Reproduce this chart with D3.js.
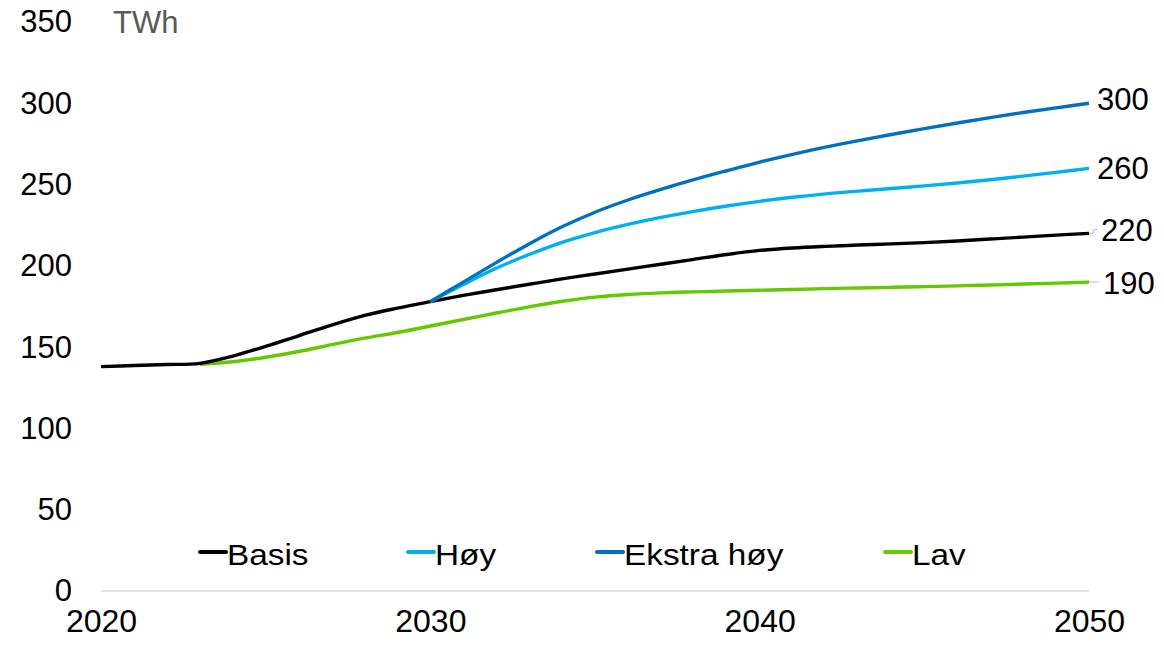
<!DOCTYPE html>
<html>
<head>
<meta charset="utf-8">
<script src="https://cdn.jsdelivr.net/npm/d3@7"></script>
<style>
  html, body { margin: 0; padding: 0; background: #fff; }
  svg { display: block; font-family: "Liberation Sans", Arial, sans-serif; }
</style>
</head>
<body>
<svg id="chart" width="1164" height="646"></svg>
<script>
// Electricity demand scenarios, TWh per year
const years = d3.range(2020, 2051);

const basis = [138, 138.7, 139.3, 140, 144.5, 150.5, 157, 163.5, 169.5, 174, 178,
               181.8, 185.3, 188.7, 192, 195, 198, 201, 204, 207, 209.5,
               211, 212, 212.8, 213.5, 214.3, 215.3, 216.5, 217.7, 218.9, 220];
const hoy = [null, null, null, null, null, null, null, null, null, null, 178,
             188.5, 198.5, 207, 214.5, 220.5, 225.5, 229.8, 233.5, 236.8, 239.7,
             242.2, 244.3, 246, 247.6, 249.2, 251, 253, 255.2, 257.5, 260];
const ekstraHoy = [null, null, null, null, null, null, null, null, null, null, 178,
                   190, 202, 213.5, 224, 233, 240.5, 247, 253, 258.5, 263.8,
                   268.6, 273, 277, 280.8, 284.4, 287.9, 291.2, 294.3, 297.2, 300];
const lav = [null, null, null, 139.5, 141, 143.8, 147.3, 151.5, 155.5, 159, 163,
             167, 171, 174.8, 178.2, 180.8, 182.4, 183.4, 184, 184.5, 185,
             185.5, 186, 186.4, 186.8, 187.2, 187.7, 188.2, 188.8, 189.4, 190];

const seriesNames = ["Basis", "Høy", "Ekstra høy", "Lav"];
const seriesColors = ["#000000", "#00b0f0", "#0070c0", "#66c800"];
const seriesValues = [basis, hoy, ekstraHoy, lav];

const yTicks = [0, 50, 100, 150, 200, 250, 300, 350];
const xTicks = [2020, 2030, 2040, 2050];
const unitLabel = "TWh";

const svg = d3.select("#chart");

const x = d3.scaleLinear().domain([2020, 2050]).range([101, 1089]);
const y = d3.scaleLinear().domain([0, 350]).range([591, 22]);

// baseline
svg.append("line")
  .attr("x1", x(2020)).attr("x2", x(2050))
  .attr("y1", y(0)).attr("y2", y(0))
  .attr("stroke", "#d9d9d9").attr("stroke-width", 1.5);

// y axis labels
const yAxis = d3.axisLeft(y).tickValues(yTicks).tickSize(0).tickPadding(0);
const gy = svg.append("g").attr("transform", "translate(72,0)").call(yAxis);
gy.select(".domain").remove();
gy.selectAll("text")
  .attr("font-family", "'Liberation Sans', Arial, sans-serif")
  .attr("font-size", 31).attr("fill", "#000");

// x axis labels
const xAxis = d3.axisBottom(x).tickValues(xTicks).tickFormat(d3.format("d")).tickSize(0).tickPadding(0);
const gx = svg.append("g").attr("transform", "translate(0,609)").call(xAxis);
gx.select(".domain").remove();
gx.selectAll("text")
  .attr("font-family", "'Liberation Sans', Arial, sans-serif")
  .attr("font-size", 32).attr("fill", "#000");

// unit
svg.append("text")
  .attr("x", 113).attr("y", 33)
  .attr("font-size", 31).attr("fill", "#595959")
  .text(unitLabel);

// series lines (Lav first so the blue scenarios sit on top)
const line = d3.line()
  .defined(d => d.v != null)
  .x(d => x(d.year))
  .y(d => y(d.v))
  .curve(d3.curveCatmullRom.alpha(0.5));

const order = [3, 0, 1, 2];
order.forEach(i => {
  const data = years.map((yr, k) => ({ year: yr, v: seriesValues[i][k] }));
  svg.append("path")
    .datum(data)
    .attr("fill", "none")
    .attr("stroke", seriesColors[i])
    .attr("stroke-width", 3.4)
    .attr("stroke-linejoin", "round")
    .attr("d", line);
});

// end-of-line value labels
const endOffsets = [{ dx: 12, dy: -3 }, { dx: 8, dy: 0 }, { dx: 8, dy: -4 }, { dx: 14, dy: 1 }];
seriesValues.forEach((vals, i) => {
  const last = vals[vals.length - 1];
  const ex = x(2050), ey = y(last);
  const o = endOffsets[i];
  if (i === 0) {
    svg.append("path")
      .attr("d", `M${ex},${ey} L${ex + 4},${ey} L${ex + 5},${ey - 4} L${ex + 9},${ey - 4}`)
      .attr("fill", "none").attr("stroke", "#bfbfbf").attr("stroke-width", 1);
  }
  if (i === 3) {
    svg.append("line")
      .attr("x1", ex).attr("x2", ex + 10).attr("y1", ey).attr("y2", ey)
      .attr("stroke", "#bfbfbf").attr("stroke-width", 1);
  }
  svg.append("text")
    .attr("x", ex + o.dx).attr("y", ey + o.dy)
    .attr("dominant-baseline", "central")
    .attr("font-size", 31).attr("fill", "#000")
    .text(d3.format("d")(last));
});

// legend
const legendX = [200, 408, 597, 885];
const legendY = 552;
seriesNames.forEach((name, i) => {
  const g = svg.append("g").attr("transform", `translate(${legendX[i]},${legendY})`);
  g.append("line")
    .attr("x1", 0).attr("x2", 26).attr("y1", 0).attr("y2", 0)
    .attr("stroke", seriesColors[i]).attr("stroke-width", 4)
    .attr("stroke-linecap", "round");
  g.append("text")
    .attr("transform", "translate(27,5) scale(1.15,1)")
    .attr("font-size", 29).attr("fill", "#000")
    .attr("dominant-baseline", "middle")
    .text(name);
});
</script>
</body>
</html>
